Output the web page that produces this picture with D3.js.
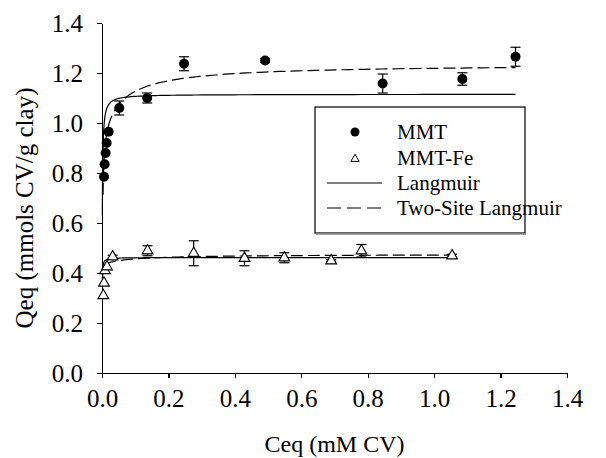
<!DOCTYPE html>
<html lang="en">
<head>
<meta charset="utf-8">
<title>CV sorption isotherms</title>
<script src="https://d3js.org/d3.v7.min.js"></script>
<style>
body{
  margin:0;
  background:#fff;
}
svg text{
  font-family:"Liberation Serif","Times New Roman",serif;
  fill:#000;
}
.axis path, .axis line{
  stroke:#000;
  stroke-width:1.2;
  shape-rendering:crispEdges;
}
.axis text{
  font-size:25px;
}
</style>
</head>
<body>
<div id="chart"></div>
<script>
// measured isotherm points (Ceq in mM CV, Qeq in mmol CV / g clay)
var mmtCeq = [0.006, 0.008, 0.011, 0.014, 0.02, 0.052, 0.136, 0.247, 0.491, 0.845, 1.085, 1.245];
var mmtQeq = [0.785, 0.835, 0.88, 0.92, 0.965, 1.06, 1.10, 1.237, 1.25, 1.158, 1.176, 1.265];
var mmtErr = [0, 0, 0, 0, 0, 0.028, 0.02, 0.028, 0.008, 0.038, 0.025, 0.038];

var feCeq = [0.004, 0.006, 0.009, 0.015, 0.032, 0.137, 0.276, 0.429, 0.549, 0.69, 0.781, 1.054];
var feQeq = [0.31, 0.36, 0.41, 0.425, 0.465, 0.489, 0.479, 0.459, 0.461, 0.449, 0.489, 0.469];
var feErr = [0, 0, 0, 0, 0.006, 0.02, 0.05, 0.03, 0.02, 0.004, 0.025, 0.006];

// fitted parameters: qmax, K (one site) and q1,K1,q2,K2 (two site)
var mmtLang = {qmax:1.115, K:1300};
var mmtTwo = {q1:0.995, K1:800, q2:0.24, K2:15};
var feLang = {qmax:0.462, K:4000};
var feTwo = {q1:0.44, K1:4000, q2:0.035, K2:10};

var xTicks = [0, 0.2, 0.4, 0.6, 0.8, 1.0, 1.2, 1.4];
var yTicks = [0, 0.2, 0.4, 0.6, 0.8, 1.0, 1.2, 1.4];
var legendNames = ["MMT", "MMT-Fe", "Langmuir", "Two-Site Langmuir"];

var margin = {top:23, right:39, bottom:85, left:102};
var W = 606, H = 458;
var w = W - margin.left - margin.right,
    h = H - margin.top - margin.bottom;

var svg = d3.select("#chart")
  .append("svg")
  .attr("width", W)
  .attr("height", H);

var chart = svg.append("g")
  .attr("transform", "translate(" + margin.left + "," + margin.top + ")");

var x = d3.scaleLinear().domain([0, 1.4]).range([0, w]);
var y = d3.scaleLinear().domain([0, 1.4]).range([h, 0]);

chart.append("g")
  .attr("class", "axis")
  .attr("transform", "translate(0," + h + ")")
  .call(d3.axisBottom(x).tickValues(xTicks).tickFormat(d3.format(".1f")).tickSize(5).tickSizeOuter(0).tickPadding(11));

chart.append("g")
  .attr("class", "axis")
  .call(d3.axisLeft(y).tickValues(yTicks).tickFormat(d3.format(".1f")).tickSize(5).tickSizeOuter(0).tickPadding(14))
  .selectAll("text").attr("dy", "0.34em");

// axis titles
svg.append("text")
  .attr("x", margin.left + x(0.7))
  .attr("y", 452)
  .attr("text-anchor", "middle")
  .style("font-size", "24px")
  .text("Ceq (mM CV)");

svg.append("text")
  .attr("transform", "translate(33," + (margin.top + y(0.66)) + ") rotate(-90)")
  .attr("text-anchor", "middle")
  .style("font-size", "25px")
  .text("Qeq (mmols CV/g clay)");

// model curves
function lang(p){ return function(c){ return p.qmax*p.K*c/(1 + p.K*c); }; }
function twoSite(p){
  return function(c){
    return p.q1*p.K1*c/(1 + p.K1*c) + p.q2*p.K2*c/(1 + p.K2*c);
  };
}
function curve(f, c0, c1){
  var pts = [], n = 200;
  for (var i = 0; i <= n; i++){
    var c = c0*Math.pow(c1/c0, i/n);
    pts.push([c, f(c)]);
  }
  return pts;
}
var line = d3.line().x(function(d){return x(d[0]);}).y(function(d){return y(d[1]);});

var curves = [
  {pts:curve(lang(mmtLang), 0.001, 1.245), dash:null},
  {pts:curve(twoSite(mmtTwo), 0.003, 1.245), dash:"12,5"},
  {pts:curve(lang(feLang), 0.0012, 1.06), dash:null},
  {pts:curve(twoSite(feTwo), 0.0012, 1.06), dash:"12,5"}
];
chart.selectAll("path.fit")
  .data(curves)
  .enter()
  .append("path")
  .attr("class", "fit")
  .attr("d", function(d){return line(d.pts);})
  .attr("fill", "none")
  .attr("stroke", "#000")
  .attr("stroke-width", 1.2)
  .attr("stroke-dasharray", function(d){return d.dash;});

// error bars
function errorBars(cs, qs, es){
  var data = cs.map(function(c, i){return {c:c, q:qs[i], e:es[i]};})
    .filter(function(d){return d.e > 0;});
  var g = chart.append("g").attr("stroke", "#000").attr("stroke-width", 1.2);
  data.forEach(function(d){
    var cx = x(d.c);
    g.append("line").attr("x1", cx).attr("x2", cx).attr("y1", y(d.q - d.e)).attr("y2", y(d.q + d.e));
    [d.q - d.e, d.q + d.e].forEach(function(v){
      g.append("line").attr("x1", cx - 5).attr("x2", cx + 5).attr("y1", y(v)).attr("y2", y(v));
    });
  });
}
errorBars(mmtCeq, mmtQeq, mmtErr);
errorBars(feCeq, feQeq, feErr);

var tri = d3.symbol().type(d3.symbolTriangle).size(50);

chart.selectAll("path.fe")
  .data(feCeq)
  .enter()
  .append("path")
  .attr("class", "fe")
  .attr("d", tri)
  .attr("transform", function(d, i){return "translate(" + x(d) + "," + y(feQeq[i]) + ")";})
  .attr("fill", "#fff")
  .attr("stroke", "#000")
  .attr("stroke-width", 1.1);

chart.selectAll("circle.mmt")
  .data(mmtCeq)
  .enter()
  .append("circle")
  .attr("class", "mmt")
  .attr("cx", function(d){return x(d);})
  .attr("cy", function(d, i){return y(mmtQeq[i]);})
  .attr("r", 5)
  .attr("fill", "#000");

// legend
var leg = svg.append("g").attr("transform", "translate(315,107)");
leg.append("rect")
  .attr("width", 210)
  .attr("height", 126)
  .attr("fill", "#fff")
  .attr("stroke", "#000")
  .attr("stroke-width", 1.2);
leg.append("line")
  .attr("x1", 1).attr("x2", 211).attr("y1", 127).attr("y2", 127)
  .attr("stroke", "#888").attr("stroke-width", 1.5);

var rowY = [25, 51, 76, 101];
leg.selectAll("text")
  .data(legendNames)
  .enter()
  .append("text")
  .attr("x", 82)
  .attr("y", function(d, i){return rowY[i];})
  .attr("dy", "0.35em")
  .style("font-size", "21px")
  .text(function(d){return d;});

leg.append("circle").attr("cx", 40).attr("cy", rowY[0]).attr("r", 4.5).attr("fill", "#000");
leg.append("path")
  .attr("d", d3.symbol().type(d3.symbolTriangle).size(30))
  .attr("transform", "translate(40," + (rowY[1] + 1) + ")")
  .attr("fill", "#fff").attr("stroke", "#000").attr("stroke-width", 1);
leg.append("line").attr("x1", 12).attr("x2", 67).attr("y1", rowY[2]).attr("y2", rowY[2])
  .attr("stroke", "#000").attr("stroke-width", 1.2);
leg.append("line").attr("x1", 12).attr("x2", 67).attr("y1", rowY[3]).attr("y2", rowY[3])
  .attr("stroke", "#000").attr("stroke-width", 1.2).attr("stroke-dasharray", "14,6");
</script>
</body>
</html>
